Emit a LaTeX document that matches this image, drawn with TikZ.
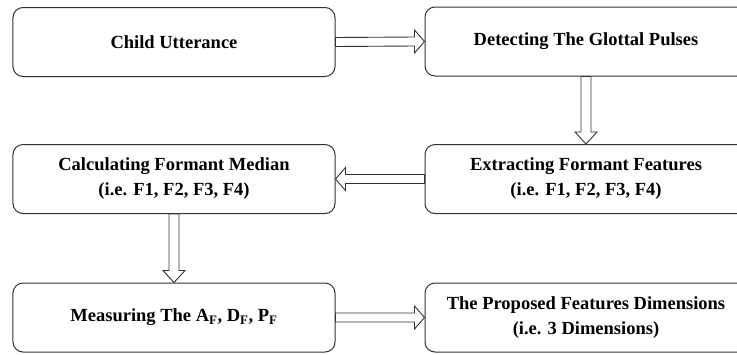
\documentclass[tikz,border=0pt]{standalone}
\usepackage{fontspec}
\setmainfont{Liberation Serif}
\usetikzlibrary{calc}
\newcommand\ArrRight[2]{%
  \draw[harrow] ($(#1)+(0,-4.5)$) -- ($(#2)+(-10,-4.5)$) -- ($(#2)+(-10,-11.5)$) -- (#2)
    -- ($(#2)+(-10,11.5)$) -- ($(#2)+(-10,4.5)$) -- ($(#1)+(0,4.5)$) -- cycle;}
\newcommand\ArrLeft[2]{%
  \draw[harrow] ($(#1)+(0,-4.5)$) -- ($(#2)+(10,-4.5)$) -- ($(#2)+(10,-11.5)$) -- (#2)
    -- ($(#2)+(10,11.5)$) -- ($(#2)+(10,4.5)$) -- ($(#1)+(0,4.5)$) -- cycle;}
\newcommand\ArrDown[2]{%
  \draw[harrow] ($(#1)+(-5,0)$) -- ($(#2)+(-5,-12)$) -- ($(#2)+(-11,-12)$) -- (#2)
    -- ($(#2)+(11,-12)$) -- ($(#2)+(5,-12)$) -- ($(#1)+(5,0)$) -- cycle;}
\begin{document}
\begin{tikzpicture}[x=1bp,y=-1bp,
  box/.style={draw=black!80, line width=1bp, rounded corners=10bp, fill=white,
    minimum width=322bp, minimum height=69bp, align=center, inner sep=0pt,
    font=\fontsize{18.5bp}{25bp}\selectfont\bfseries},
  harrow/.style={draw=black!80, line width=0.9bp, fill=white}]
\useasboundingbox (0,0) rectangle (737,354);
\clip (0,0) rectangle (737,354);
\node[box] (A) at (174,42) {Child Utterance};
\node[box] (B) at (586,41.5) {Detecting The Glottal Pulses};
\node[box] (C) at (586,179) {Extracting Formant Features\\(i.e. F1, F2, F3, F4)};
\node[box] (D) at (174,179) {Calculating Formant Median\\(i.e. F1, F2, F3, F4)};
\node[box] (E) at (174,317.5) {Measuring The A\textsubscript{F}, D\textsubscript{F}, P\textsubscript{F}};
\node[box] (F) at (586,317.5) {The Proposed Features Dimensions\\(i.e. 3 Dimensions)};
\ArrRight{A.east}{B.west}
\ArrDown{B.south}{C.north}
\ArrLeft{C.west}{D.east}
\ArrDown{D.south}{E.north}
\ArrRight{E.east}{F.west}
\end{tikzpicture}
\end{document}
